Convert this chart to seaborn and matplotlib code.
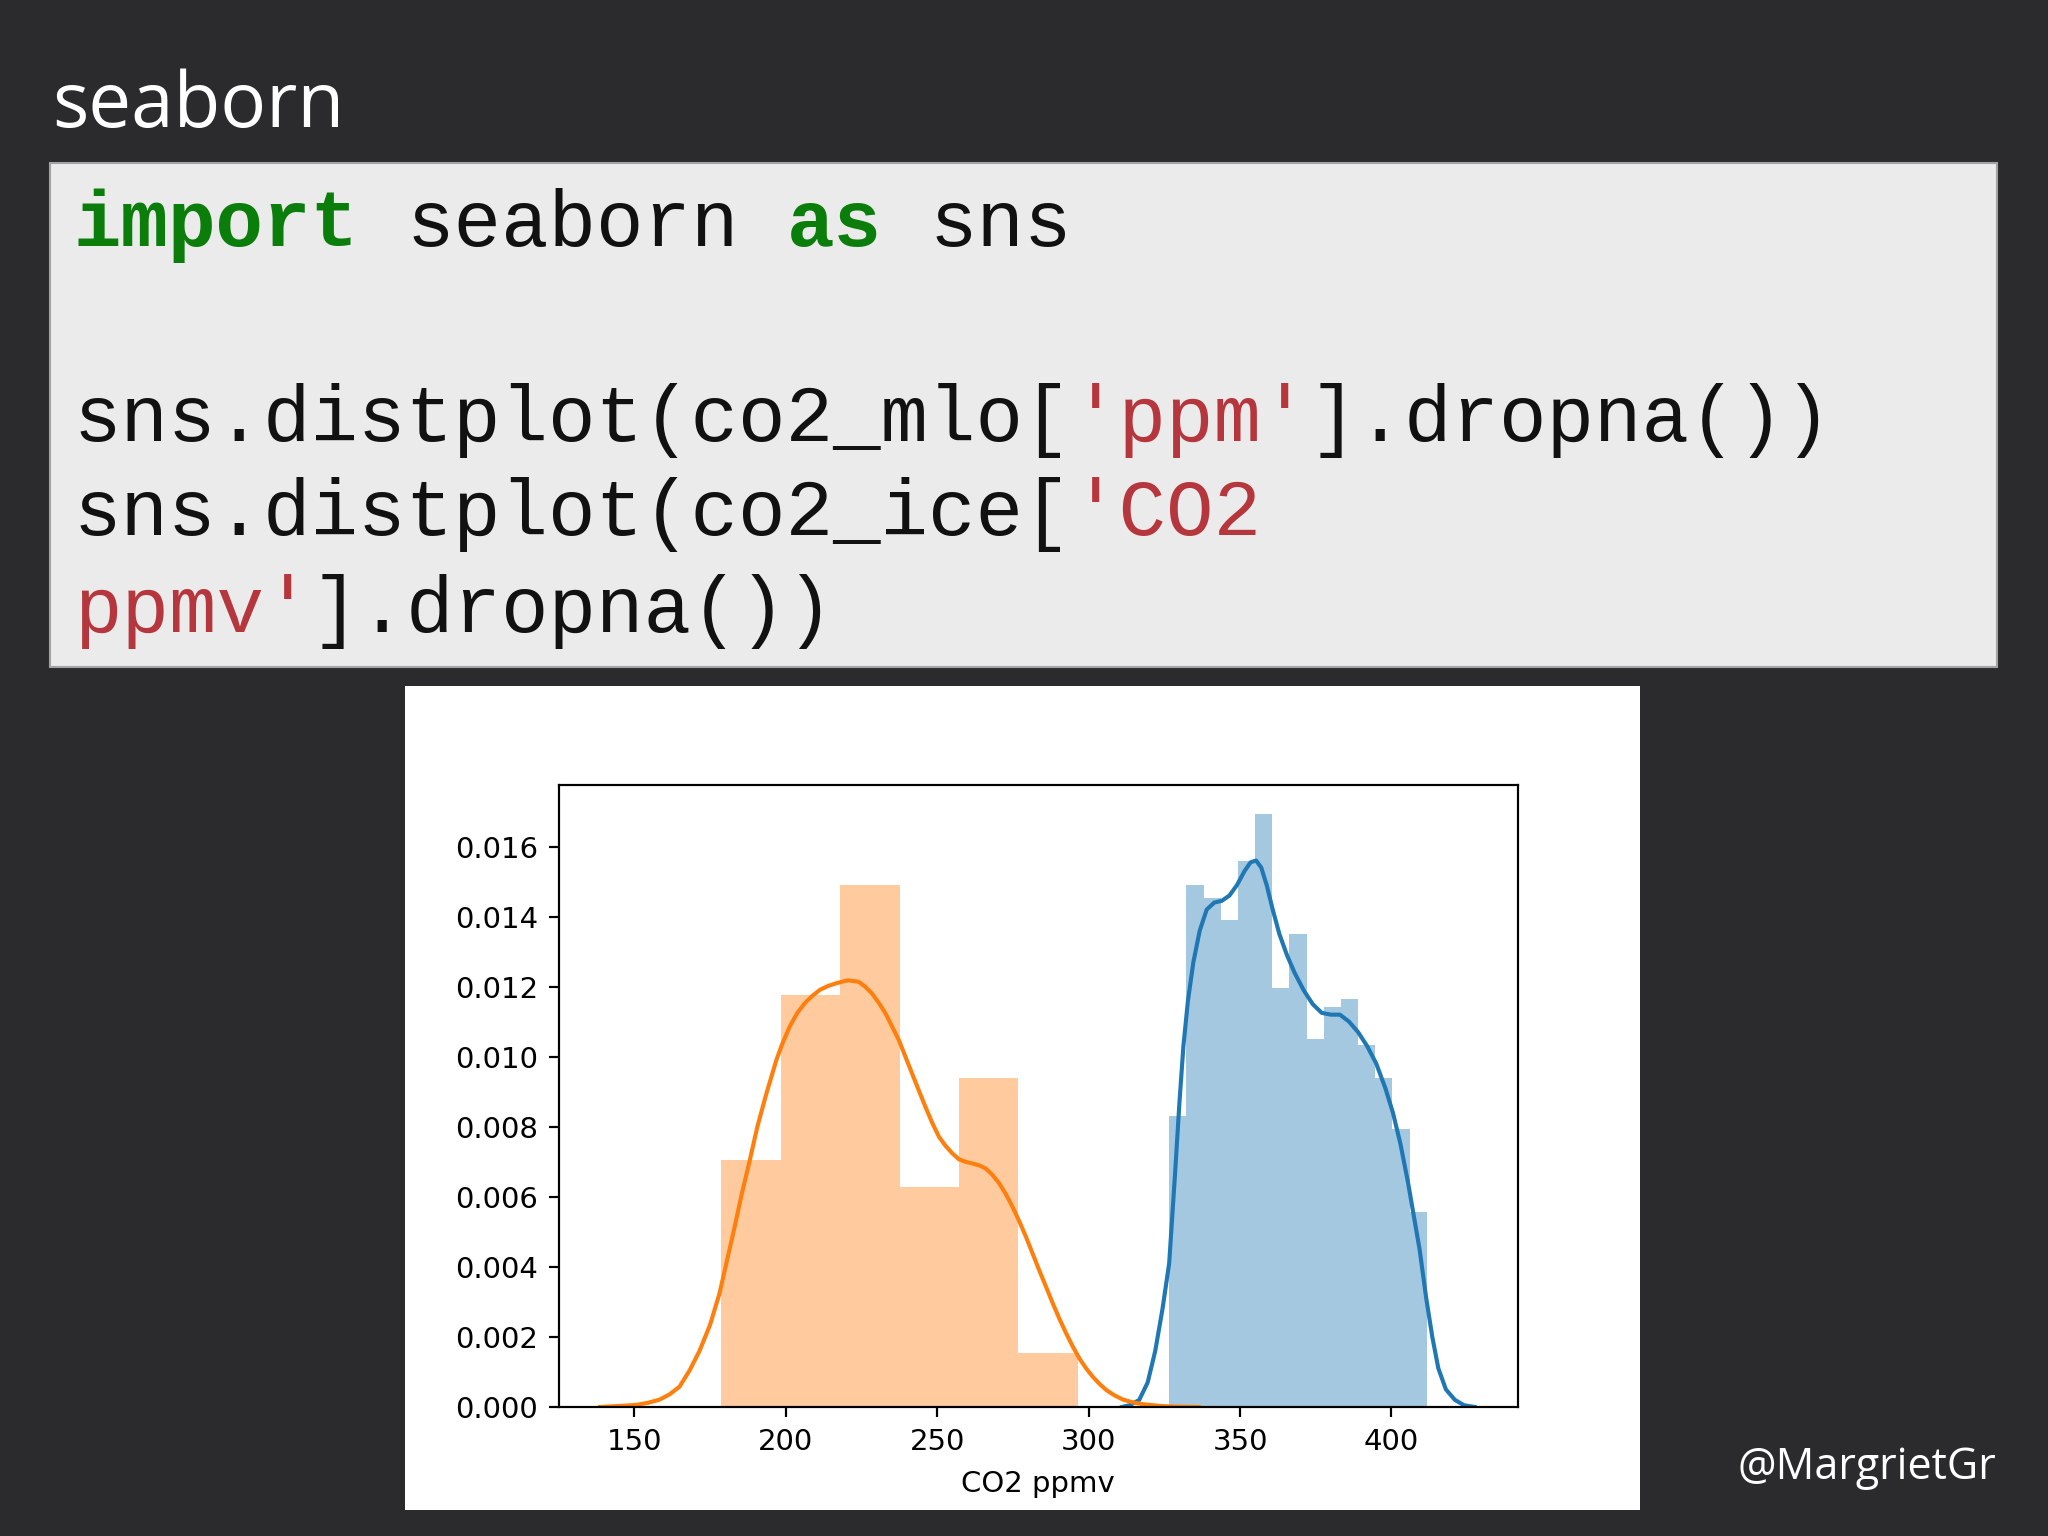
import numpy as np
import pandas as pd
import matplotlib
matplotlib.use("Agg")
import matplotlib.pyplot as plt
from matplotlib.patches import Rectangle
import seaborn as sns

# histogram bars (density per bin)
mlo_bin_range = (326.65, 411.67)
mlo_density = [0.00829, 0.01488, 0.01449, 0.01388, 0.01557, 0.01690, 0.01194, 0.01348,
               0.01048, 0.01140, 0.01163, 0.01031, 0.00937, 0.00791, 0.00557]
ice_bin_range = (178.66, 296.45)
ice_density = [0.00704, 0.01174, 0.01488, 0.00627, 0.00939, 0.00155]

# kde curves
mlo_kde_x = [311.0, 313.5, 316.7, 319.5, 322.0, 324.4, 326.6, 328.5, 330.0, 331.3, 332.8,
             334.6, 336.7, 339.0, 341.5, 344.0, 346.5, 349.0, 351.5, 353.5, 355.3, 357.0,
             358.8, 360.8, 363.0, 365.5, 368.0, 371.0, 374.0, 377.0, 380.0, 383.0, 386.0,
             389.0, 392.0, 395.0, 398.0, 400.5, 403.0, 405.5, 407.5, 409.3, 411.5, 413.5,
             415.5, 418.0, 421.0, 424.0, 427.5]
mlo_kde_y = [0.0, 0.00005, 0.0002, 0.0007, 0.0016, 0.0028, 0.0041, 0.0066, 0.0087, 0.0103,
             0.0116, 0.0127, 0.0136, 0.0142, 0.0144, 0.01445, 0.0146, 0.0149, 0.0153, 0.01555,
             0.0156, 0.0154, 0.0149, 0.0142, 0.0135, 0.0129, 0.0124, 0.0119, 0.0115, 0.01125,
             0.0112, 0.0112, 0.0110, 0.0107, 0.0103, 0.0098, 0.0091, 0.0084, 0.0075, 0.0064,
             0.0054, 0.0045, 0.0031, 0.0020, 0.0011, 0.0005, 0.0002, 0.00005, 0.0]

ice_kde_x = [138.7, 145.0, 150.6, 154.5, 158.3, 161.6, 164.9, 168.2, 171.5, 175.0, 178.1,
             180.6, 183.1, 185.5, 188.1, 190.6, 193.6, 196.9, 198.9, 201.3, 203.8, 206.3,
             208.8, 211.3, 214.0, 216.8, 220.5, 224.0, 226.2, 228.4, 230.6, 232.9, 235.1,
             237.3, 239.5, 241.7, 243.9, 246.1, 248.3, 250.6, 252.8, 255.0, 257.2, 259.4,
             261.6, 263.8, 266.0, 268.2, 270.5, 272.7, 274.9, 277.1, 279.3, 281.5, 283.7,
             286.0, 288.2, 290.4, 292.6, 294.8, 297.0, 299.2, 301.4, 303.6, 305.9, 308.6,
             311.4, 314.7, 318.0, 323.6, 329.0, 336.4]
ice_kde_y = [0.0, 0.00003, 0.00006, 0.00012, 0.00021, 0.00036, 0.00058, 0.00104, 0.0016,
             0.00235, 0.00324, 0.00419, 0.00514, 0.0061, 0.00704, 0.008, 0.00895, 0.00991,
             0.01038, 0.01086, 0.01125, 0.01153, 0.01174, 0.01191, 0.01202, 0.0121, 0.01218,
             0.01214, 0.012, 0.01181, 0.01155, 0.01124, 0.01086, 0.01048, 0.01, 0.00952,
             0.00904, 0.00857, 0.00812, 0.00771, 0.00745, 0.00724, 0.00707, 0.007, 0.00695,
             0.0069, 0.00681, 0.00663, 0.00638, 0.00607, 0.00571, 0.0053, 0.00486, 0.00438,
             0.0039, 0.00342, 0.00295, 0.00251, 0.0021, 0.00172, 0.00138, 0.0011, 0.00086,
             0.00066, 0.00048, 0.00033, 0.00021, 0.00013, 0.00008, 0.00003, 0.00001, 0.0]

xticks = [150, 200, 250, 300, 350, 400]
yticks = [0.000, 0.002, 0.004, 0.006, 0.008, 0.010, 0.012, 0.014, 0.016]

W, H = 2048, 1536
BG = "#2b2a2c"
C0, C1 = "#1f77b4", "#ff7f0e"
s = 1.97  # scale of the embedded matplotlib figure

fig = plt.figure(figsize=(W / 100, H / 100), dpi=100, facecolor=BG)


def box(x0, y0, x1, y1, **kw):
    fig.patches.append(Rectangle((x0 / W, 1 - y1 / H), (x1 - x0) / W, (y1 - y0) / H,
                                 transform=fig.transFigure, zorder=-1, **kw))


# slide title
fig.text(52 / W, 1 - 127 / H, "seaborn", color="white", fontsize=55,
         family="Open Sans", va="baseline")

# code block, monospaced: each piece placed at its column
box(50, 163, 1997, 667, facecolor="#ebebeb", edgecolor="#a3a3a3", linewidth=1.5)
code_fs = 57
col_w = 0.6001 * code_fs * 100 / 72  # advance of one character in px
green, red, black = "#0a7d0a", "#b5373d", "#111111"
code_lines = [
    (246, [(0, "import", green, "bold"), (7, "seaborn", black, "normal"),
           (15, "as", green, "bold"), (18, "sns", black, "normal")]),
    (441, [(0, "sns.distplot(co2_mlo[", black, "normal"), (21, "'ppm'", red, "normal"),
           (26, "].dropna())", black, "normal")]),
    (535, [(0, "sns.distplot(co2_ice[", black, "normal"), (21, "'CO2", red, "normal")]),
    (632, [(0, "ppmv'", red, "normal"), (5, "].dropna())", black, "normal")]),
]
for base, parts in code_lines:
    for col, txt, c, wt in parts:
        fig.text((74 + col * col_w) / W, 1 - base / H, txt, color=c, fontweight=wt,
                 family="Liberation Mono", fontsize=code_fs, va="baseline")

# white panel holding the plot
box(405, 686, 1640, 1510, facecolor="white", edgecolor="none")

ax = fig.add_axes([559 / W, 1 - 1407 / H, (1517.7 - 559) / W, (1407 - 784.5) / H])

mlo_edges = np.linspace(*mlo_bin_range, len(mlo_density) + 1)
ice_edges = np.linspace(*ice_bin_range, len(ice_density) + 1)
mlo_df = pd.DataFrame({"ppm": (mlo_edges[:-1] + mlo_edges[1:]) / 2, "density": mlo_density})
ice_df = pd.DataFrame({"ppm": (ice_edges[:-1] + ice_edges[1:]) / 2, "density": ice_density})

sns.histplot(data=mlo_df, x="ppm", weights="density", bins=mlo_edges.tolist(),
             stat="density", color=C0, alpha=0.4, linewidth=0, ax=ax)
sns.lineplot(x=mlo_kde_x, y=mlo_kde_y, color=C0, linewidth=1.5 * s, ax=ax)
sns.histplot(data=ice_df, x="ppm", weights="density", bins=ice_edges.tolist(),
             stat="density", color=C1, alpha=0.4, linewidth=0, ax=ax)
sns.lineplot(x=ice_kde_x, y=ice_kde_y, color=C1, linewidth=1.5 * s, ax=ax)

ax.set_xlim(125.1, 441.7)
ax.set_ylim(0, 0.01777)
ax.set_xticks(xticks)
ax.set_yticks(yticks)
ax.set_yticklabels([f"{v:.3f}" for v in yticks])
ax.set_ylabel("")
ax.set_xlabel("CO2 ppmv", fontsize=21, labelpad=10)
ax.tick_params(labelsize=21, length=3.5 * s, width=0.8 * s, pad=8)
for sp in ax.spines.values():
    sp.set_linewidth(0.8 * s)

# watermark
fig.text(1996 / W, 1 - 1479 / H, "@MargrietGr", color="white", fontsize=31,
         family="Open Sans", ha="right", va="baseline")

fig.savefig("out.png", dpi=100, facecolor=BG)
